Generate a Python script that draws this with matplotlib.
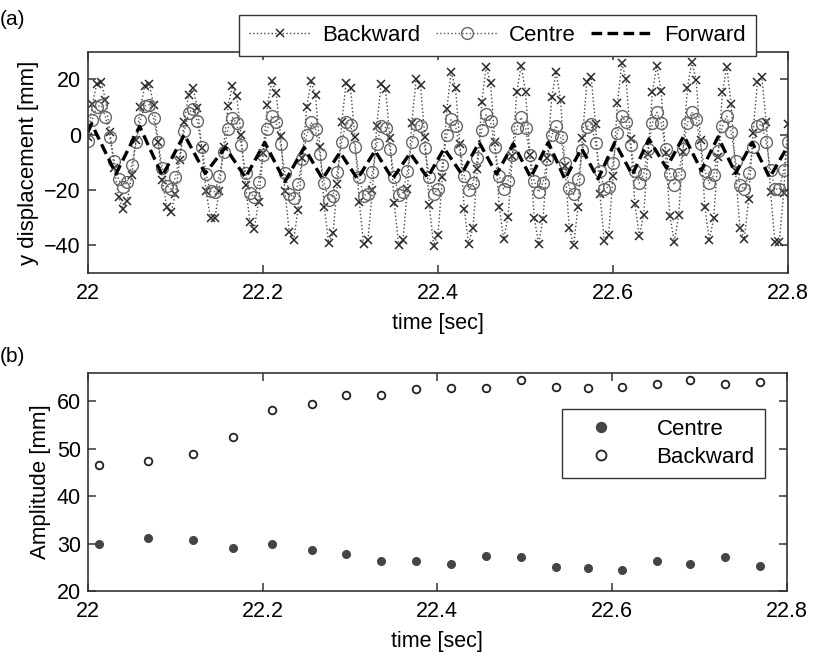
import numpy as np
import matplotlib
matplotlib.use("Agg")
import matplotlib.pyplot as plt

plt.rcParams['font.family'] = ['Liberation Sans Narrow', 'Liberation Sans', 'DejaVu Sans']

# ---------------- data ----------------
t_start = 22.0
sample_dt = 0.005

backward_mm = [
    -0.7, 11.0, 18.3, 19.0, 12.6, 1.0, -12.1, -22.5, -26.9, -23.9,
    -14.6, -1.9, 10.1, 17.6, 18.3, 10.7, -2.5, -16.5, -26.2, -27.9,
    -21.4, -9.0, 4.6, 14.5, 17.0, 9.7, -4.8, -20.4, -30.3, -30.3,
    -20.2, -4.4, 10.2, 17.6, 13.8, -0.3, -18.2, -31.5, -34.0, -24.2,
    -6.6, 10.6, 19.3, 15.2, -0.4, -20.3, -35.1, -37.9, -27.3, -8.5,
    10.0, 19.3, 14.2, -4.5, -26.3, -39.1, -35.7, -17.8, 4.5, 18.8,
    16.9, -1.0, -24.4, -39.7, -37.9, -20.1, 3.2, 18.4, 16.6, -1.3,
    -24.7, -40.0, -38.1, -19.8, 4.3, 20.0, 17.9, -1.0, -25.4, -40.1,
    -36.1, -15.4, 9.2, 22.6, 17.0, -3.5, -26.9, -39.4, -33.6, -12.5,
    11.7, 24.6, 18.7, -2.6, -26.2, -37.7, -29.9, -7.7, 15.3, 25.0,
    15.6, -7.2, -30.1, -39.5, -30.4, -8.4, 13.6, 22.7, 12.5, -11.4,
    -33.7, -39.9, -26.1, -1.1, 18.9, 21.0, 3.9, -21.3, -38.4, -36.1,
    -15.1, 11.3, 25.8, 20.0, -1.4, -25.1, -36.6, -29.0, -7.1, 15.5,
    25.0, 15.7, -6.8, -29.4, -38.7, -29.2, -6.2, 16.8, 26.3, 19.8,
    -2.1, -26.3, -38.1, -30.3, -7.9, 15.3, 24.6, 11.2, -13.2, -33.8,
    -37.8, -23.3, 0.6, 19.2, 21.0, 4.5, -20.7, -38.7, -38.8, -21.0,
    3.7]

centre_mm = [
    -2.2, 5.4, 10.1, 10.6, 6.5, -1.0, -9.5, -16.2, -19.0, -17.0,
    -10.9, -2.5, 5.4, 10.4, 10.8, 5.9, -2.8, -12.0, -18.4, -19.6,
    -15.3, -7.4, 1.4, 7.8, 9.4, 4.8, -4.4, -14.2, -20.5, -20.6,
    -15.0, -6.1, 2.1, 6.2, 4.1, -3.7, -13.7, -21.1, -22.5, -17.1,
    -7.4, 2.0, 6.8, 4.6, -3.4, -13.7, -21.3, -22.8, -17.8, -8.8,
    -0.1, 4.4, 1.9, -7.1, -17.6, -23.7, -22.1, -13.4, -2.5, 4.4,
    3.6, -4.5, -15.2, -22.1, -21.4, -13.6, -3.4, 3.3, 2.5, -5.2,
    -15.2, -21.8, -20.9, -13.1, -2.8, 3.9, 3.0, -5.0, -15.2, -21.4,
    -19.7, -10.8, -0.2, 5.5, 3.2, -5.2, -14.8, -19.9, -17.5, -8.5,
    1.8, 7.3, 4.8, -4.6, -14.9, -19.8, -16.6, -7.3, 2.3, 6.3,
    2.3, -7.2, -16.8, -20.8, -17.3, -8.7, -0.2, 3.3, -0.8, -10.3,
    -19.2, -21.6, -15.9, -5.4, 2.9, 3.8, -2.9, -13.0, -19.7, -18.8,
    -10.1, 0.7, 6.7, 4.5, -3.8, -13.0, -17.5, -14.3, -5.2, 4.2,
    8.1, 4.3, -5.1, -14.4, -18.2, -14.4, -5.1, 4.3, 8.1, 5.5,
    -3.3, -13.0, -17.6, -14.6, -5.9, 3.1, 6.7, 1.0, -9.4, -18.1,
    -19.8, -14.0, -4.4, 3.1, 3.8, -2.7, -12.6, -19.7, -19.7, -12.7,
    -2.8]

forward_t = [22.000, 22.004, 22.032, 22.059, 22.085, 22.110, 22.134, 22.157,
             22.180, 22.202, 22.225, 22.247, 22.268, 22.288, 22.308, 22.328,
             22.348, 22.368, 22.388, 22.407, 22.427, 22.447, 22.467, 22.486,
             22.506, 22.526, 22.545, 22.564, 22.583, 22.602, 22.622, 22.641,
             22.661, 22.681, 22.701, 22.720, 22.740, 22.759, 22.779, 22.800]
forward_mm = [1.0, 4.0, -14.2, 3.0, -14.9, 0.0, -14.0, -4.6, -15.5, -2.8,
              -17.0, -4.6, -16.0, -6.4, -16.0, -5.8, -16.0, -6.7, -15.5, -5.0,
              -14.2, -2.8, -14.2, -3.3, -15.5, -2.8, -16.1, -5.0, -16.0, -2.8,
              -14.5, -1.6, -12.0, -0.4, -13.0, -0.8, -14.0, -2.8, -15.5, -4.0]

amp_time = [22.013, 22.069, 22.120, 22.166, 22.211, 22.256, 22.296, 22.336,
            22.376, 22.416, 22.456, 22.496, 22.536, 22.573, 22.611, 22.651,
            22.689, 22.729, 22.769]
amp_centre = [30.0, 31.1, 30.8, 29.1, 30.0, 28.6, 27.9, 26.3, 26.3, 25.8,
              27.4, 27.1, 25.1, 24.9, 24.4, 26.3, 25.8, 27.1, 25.2]
amp_backward = [46.5, 47.3, 48.8, 52.4, 58.1, 59.5, 61.4, 61.4, 62.5, 62.8,
                62.8, 64.5, 63.0, 62.8, 63.0, 63.7, 64.5, 63.7, 64.0]

time_ticks = [22.0, 22.2, 22.4, 22.6, 22.8]
time_ticklabels = ['22', '22.2', '22.4', '22.6', '22.8']
disp_ticks = [-40, -20, 0, 20]
amp_ticks = [20, 30, 40, 50, 60]

# ---------------- figure ----------------
time = t_start + sample_dt * np.arange(len(backward_mm))

fig = plt.figure(figsize=(8.14, 6.6), dpi=100)
ax1 = fig.add_axes([0.1081, 0.5864, 0.8600, 0.3353])
ax2 = fig.add_axes([0.1081, 0.1045, 0.8583, 0.3308])

TICK_FS = 15.5
LAB_FS = 15.5

def style(ax):
    for s in ax.spines.values():
        s.set_linewidth(1.2)
        s.set_color('#333333')
    ax.tick_params(direction='in', top=True, right=True, length=6, width=1.1,
                   colors='#333333', labelcolor='black', labelsize=TICK_FS)
    ax.tick_params(axis='x', pad=7)
    ax.tick_params(axis='y', pad=5)
    ax.set_xlim(22.0, 22.8)
    ax.set_xticks(time_ticks)
    ax.set_xticklabels(time_ticklabels)

# ---- (a) ----
l_b, = ax1.plot(time, backward_mm, linestyle=':', color='#444444', linewidth=1.0,
                marker='x', markersize=6, markeredgewidth=1.1,
                markeredgecolor='#2a2a2a', label='Backward')
l_c, = ax1.plot(time, centre_mm, linestyle=':', color='#555555', linewidth=1.0,
                marker='o', markersize=8.5, markerfacecolor='none',
                markeredgewidth=1.0, markeredgecolor='#666666', label='Centre')
l_f, = ax1.plot(forward_t, forward_mm, linestyle='--', color='black',
                linewidth=2.4, dashes=(3.2, 1.6), label='Forward')
style(ax1)
ax1.set_ylim(-50, 30)
ax1.set_yticks(disp_ticks)
ax1.set_xlabel('time [sec]', fontsize=LAB_FS, labelpad=7)
ax1.set_ylabel('y displacement [mm]', fontsize=16,
               family=['Liberation Sans', 'DejaVu Sans'], labelpad=4)

fig.legend(handles=[l_b, l_c, l_f], loc='center', ncol=3,
           bbox_to_anchor=(0.611, 0.946),
           frameon=True, fancybox=False, edgecolor='#333333', framealpha=1,
           fontsize=16, handlelength=2.8, handletextpad=0.5,
           columnspacing=0.7, borderpad=0.45, borderaxespad=0.0)

# ---- (b) ----
ax2.plot(amp_time, amp_centre, linestyle='none', marker='o', markersize=5.5,
         markerfacecolor='#444444', markeredgecolor='#444444', label='Centre')
ax2.plot(amp_time, amp_backward, linestyle='none', marker='o', markersize=5.5,
         markerfacecolor='white', markeredgecolor='#222222',
         markeredgewidth=1.3, label='Backward')
style(ax2)
ax2.set_ylim(20, 66)
ax2.set_yticks(amp_ticks)
ax2.set_xlabel('time [sec]', fontsize=LAB_FS, labelpad=7)
ax2.set_ylabel('Amplitude [mm]', fontsize=16,
               family=['Liberation Sans', 'DejaVu Sans'], labelpad=4)
ax2.legend(loc='upper right', bbox_to_anchor=(0.9845, 0.885),
           frameon=True, fancybox=False, edgecolor='#333333', framealpha=1,
           fontsize=16, handlelength=2.6, handletextpad=1.2,
           borderpad=0.45, labelspacing=0.3, markerscale=1.3)

fig.text(0.0, 0.985, '(a)', fontsize=15, va='top', ha='left')
fig.text(0.0, 0.475, '(b)', fontsize=15, va='top', ha='left')

fig.savefig('out.png', dpi=100)
